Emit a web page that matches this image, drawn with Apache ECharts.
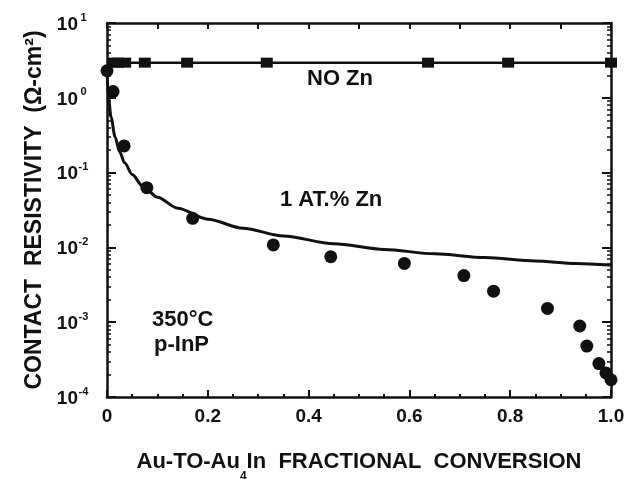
<!DOCTYPE html>
<html><head><meta charset="utf-8">
<script src="https://cdn.jsdelivr.net/npm/echarts@6/dist/echarts.min.js"></script>
<style>html,body{margin:0;padding:0;background:#fff}#c{width:628px;height:479px}</style>
</head><body><div id="c"></div>
<script>
// ---- data ----
const noZnX = [0, 0.013, 0.022, 0.036, 0.075, 0.159, 0.317, 0.637, 0.796, 1.0];
const noZnY = [2.3, 2.95, 2.95, 2.95, 2.95, 2.95, 2.95, 2.95, 2.95, 2.95];

const znX = [0.012, 0.034, 0.079, 0.17, 0.33, 0.444, 0.59, 0.708, 0.767, 0.874, 0.938, 0.952, 0.976, 0.99, 1.0];
const znY = [1.21, 0.227, 0.0628, 0.0245, 0.0108, 0.0075, 0.0061, 0.0042, 0.0026, 0.00153, 0.00089, 0.00048, 0.00028, 0.00021, 0.00017];

const fitX = [0, 0.003, 0.008, 0.016, 0.025, 0.035, 0.05, 0.07, 0.1, 0.14, 0.2, 0.27, 0.35, 0.45, 0.55, 0.65, 0.75, 0.85, 0.93, 1.0];
const fitY = [2.3, 1.0, 0.55, 0.30, 0.19, 0.135, 0.094, 0.067, 0.047, 0.0335, 0.0238, 0.018, 0.0142, 0.0112, 0.0094, 0.0082, 0.0073, 0.0066, 0.0061, 0.0058];

const xTicks = [0, 0.2, 0.4, 0.6, 0.8, 1.0];
const xTickLabels = ['0', '0.2', '0.4', '0.6', '0.8', '1.0'];

const labels = {
  xTitle: ['Au-TO-Au', '4', 'In  FRACTIONAL  CONVERSION'],
  yTitle: 'CONTACT  RESISTIVITY  (\u03A9-cm\u00B2)',
  noZn: 'NO Zn',
  zn: '1 AT.% Zn',
  temp: '350\u00B0C',
  sub: 'p-InP'
};
// --------------------------------------

const F = '"Liberation Sans", Arial, sans-serif';
const K = '#111';
const zip = (a, b) => a.map((v, i) => [v, b[i]]);

const chart = echarts.init(document.getElementById('c'), null, {renderer: 'canvas'});

const axLine = {show: true, onZero: false, lineStyle: {color: K, width: 2.5}};

const option = {
  backgroundColor: '#fff',
  animation: false,
  grid: {left: 107, right: 17, top: 23, bottom: 82, containLabel: false, outerBoundsMode: 'none'},
  xAxis: [{
    type: 'value', position: 'bottom', min: 0, max: 1, interval: 0.2,
    axisLine: axLine,
    axisTick: {show: true, inside: true, length: 7, lineStyle: {color: K, width: 2}},
    minorTick: {show: true, splitNumber: 4, length: 3, lineStyle: {color: K, width: 2}},
    splitLine: {show: false},
    axisLabel: {
      margin: 10, color: K, fontFamily: F, fontWeight: 'bold', fontSize: 19,
      formatter: v => { const i = xTicks.findIndex(t => Math.abs(t - v) < 1e-9); return i >= 0 ? xTickLabels[i] : ''; }
    },
    name: '{a|' + labels.xTitle[0] + '}{s|' + labels.xTitle[1] + '}{a|' + labels.xTitle[2] + '}',
    nameLocation: 'middle', nameGap: 54,
    nameTextStyle: {
      color: K, fontFamily: F, fontWeight: 'bold', fontSize: 22,
      rich: {
        a: {fontFamily: F, fontWeight: 'bold', fontSize: 22, lineHeight: 22, verticalAlign: 'top', color: K},
        s: {fontFamily: F, fontWeight: 'bold', fontSize: 12, lineHeight: 32, verticalAlign: 'bottom', color: K}
      }
    }
  }, {
    type: 'value', position: 'top', min: 0, max: 1, interval: 0.1,
    axisLine: axLine,
    axisTick: {show: true, inside: true, length: 6, lineStyle: {color: K, width: 2}},
    splitLine: {show: false}, axisLabel: {show: false}
  }],
  yAxis: [{
    type: 'log', logBase: 10, position: 'left', min: 1e-4, max: 10, interval: 1,
    axisLine: axLine,
    axisTick: {show: true, inside: true, length: 9, lineStyle: {color: K, width: 2}},
    minorTick: {show: true, splitNumber: 9, length: 4, lineStyle: {color: K, width: 1.5}},
    splitLine: {show: false},
    axisLabel: {
      margin: 18, color: K,
      formatter: v => '{b|10}{s|' + Math.round(Math.log10(v)) + '}',
      rich: {
        b: {fontFamily: F, fontWeight: 'bold', fontSize: 19, lineHeight: 22, verticalAlign: 'bottom', color: K},
        s: {fontFamily: F, fontWeight: 'bold', fontSize: 11, lineHeight: 12, verticalAlign: 'top', width: 11, align: 'left', color: K}
      }
    },
    name: labels.yTitle, nameLocation: 'middle', nameGap: 60,
    nameTextStyle: {color: K, fontFamily: F, fontWeight: 'bold', fontSize: 23}
  }, {
    type: 'log', logBase: 10, position: 'right', min: 1e-4, max: 10, interval: 1,
    axisLine: axLine,
    axisTick: {show: true, inside: true, length: 9, lineStyle: {color: K, width: 2}},
    minorTick: {show: true, splitNumber: 9, length: 4, lineStyle: {color: K, width: 1.5}},
    splitLine: {show: false}, axisLabel: {show: false}
  }],
  series: [{
    name: 'fit', type: 'line', xAxisIndex: 0, yAxisIndex: 0,
    data: zip(fitX, fitY), smooth: 0.3, smoothMonotone: 'x', showSymbol: false, symbol: 'none',
    lineStyle: {color: K, width: 3}, clip: false, z: 2
  }, {
    name: 'NO Zn', type: 'line', xAxisIndex: 0, yAxisIndex: 0,
    data: zip(noZnX, noZnY).map((p, i) => i === 0 ? {value: p, symbol: 'circle', symbolSize: 13} : p),
    symbol: 'rect', symbolSize: [12, 10], showSymbol: true,
    lineStyle: {color: K, width: 2.5}, itemStyle: {color: K, opacity: 1}, clip: false, z: 3
  }, {
    name: '1 AT.% Zn', type: 'scatter', xAxisIndex: 0, yAxisIndex: 0,
    data: zip(znX, znY), symbol: 'circle', symbolSize: 13,
    itemStyle: {color: K, opacity: 1}, clip: false, z: 4
  }],
  graphic: [
    {type: 'text', x: 307, y: 79, style: {text: labels.noZn, font: 'bold 22px ' + F, fill: K, verticalAlign: 'middle', textVerticalAlign: 'middle'}},
    {type: 'text', x: 280, y: 200, style: {text: labels.zn, font: 'bold 22px ' + F, fill: K, verticalAlign: 'middle', textVerticalAlign: 'middle'}},
    {type: 'text', x: 152, y: 320, style: {text: labels.temp, font: 'bold 22px ' + F, fill: K, verticalAlign: 'middle', textVerticalAlign: 'middle'}},
    {type: 'text', x: 154, y: 345, style: {text: labels.sub, font: 'bold 22px ' + F, fill: K, verticalAlign: 'middle', textVerticalAlign: 'middle'}}
  ]
};
chart.setOption(option);
</script>
</body></html>
